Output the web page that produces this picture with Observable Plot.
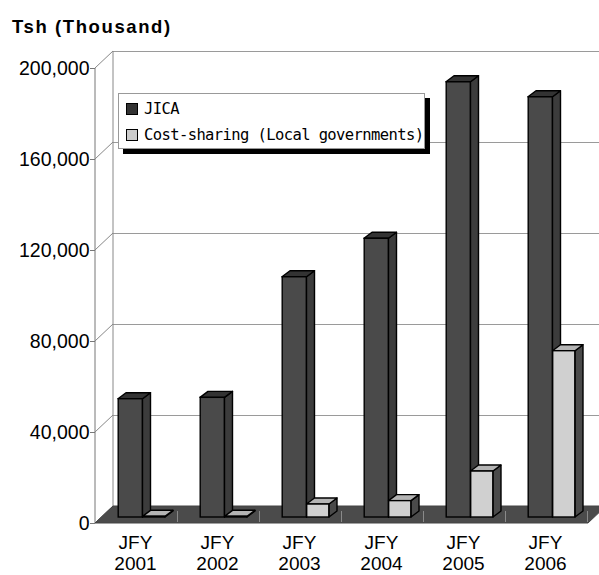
<!DOCTYPE html>
<html><head><meta charset="utf-8">
<script src="https://cdn.jsdelivr.net/npm/d3@7"></script>
<script src="https://cdn.jsdelivr.net/npm/@observablehq/plot@0.6"></script>
<style>
body{margin:0;background:#fff;}
#wrap{position:relative;width:599px;height:575px;font-family:"Liberation Sans",Arial,sans-serif;color:#000;}
#chart{position:absolute;left:0;top:0;}
#title{position:absolute;left:12px;top:16px;font-weight:bold;font-size:18.5px;letter-spacing:1.6px;white-space:nowrap;}
#legend{position:absolute;left:118px;top:93px;width:307px;height:56px;box-sizing:border-box;border:1px solid #999;background:#fff;box-shadow:5px 5px 0 #000;font-family:"DejaVu Sans Mono",monospace;font-size:15.5px;letter-spacing:-0.6px;}
.item{position:absolute;left:7px;white-space:nowrap;line-height:18px;}
.sw{display:inline-block;width:10px;height:10px;border:1px solid #000;vertical-align:-1px;margin-right:6px;}
</style></head><body>
<div id="wrap"><div id="chart"></div><div id="title">Tsh (Thousand)</div><div id="legend"></div></div>
<script>
// ---- data ----
const years = ["2001", "2002", "2003", "2004", "2005", "2006"];
const seriesNames = ["JICA", "Cost-sharing (Local governments)"];
const jica = [52000, 52600, 105600, 122500, 191300, 184700];
const costSharing = [300, 300, 5700, 7200, 20200, 73100];
const yTicks = [0, 40000, 80000, 120000, 160000, 200000];

// ---- styling / layout constants ----
const DX = 18, DY = -17;        // depth of chart box
const BAR_DY = -6;              // bars sit a bit behind the front edge
const BDX = 8, BDY = -6;        // bar depth
const colors = {
  jica: {front: "#4a4a4a", side: "#3c3c3c", top: "#333333"},
  cs: {front: "#d0d0d0", side: "#4a4a4a", top: "#b4b4b4"}
};
const STEP = 82.4;
const bars = [
  {name: seriesNames[0], vals: jica, off: -17, w: 24.5, c: colors.jica},
  {name: seriesNames[1], vals: costSharing, off: 7.5, w: 22.5, c: colors.cs}
];

function backAndAxes(index, {y}, values, dim) {
  const g = d3.create("svg:g").attr("fill", "none");
  const L = dim.marginLeft;
  const y0 = y(0), yTop = y(d3.max(yTicks));
  g.append("line").attr("x1", L + DX).attr("x2", L + DX).attr("y1", yTop + DY).attr("y2", y0 + DY).attr("stroke", "#888");
  g.append("line").attr("x1", L).attr("x2", L).attr("y1", yTop).attr("y2", y0).attr("stroke", "#777");
  for (const t of yTicks) {
    g.append("line").attr("x1", L).attr("y1", y(t)).attr("x2", L + DX).attr("y2", y(t) + DY).attr("stroke", "#888");
  }
  return g.node();
}

function floor(index, {x, y}, values, dim) {
  const g = d3.create("svg:g");
  const L = dim.marginLeft, R = dim.width - dim.marginRight;
  const y0 = y(0);
  g.append("polygon").attr("points", [[L, y0], [R, y0], [R + DX, y0 + DY], [L + DX, y0 + DY]].join(" "))
    .attr("fill", "#4b4b4b").attr("stroke", "#444");
  const bw = x.bandwidth();
  years.forEach(yr => {
    const b = x(yr) + bw + 1.5;
    g.append("line").attr("x1", b).attr("x2", b).attr("y1", y0 - 1).attr("y2", y0 - 12).attr("stroke", "#8a8a8a");
  });
  return g.node();
}

function faces(s) {
  return (index, {x, y}) => {
    const g = d3.create("svg:g").attr("stroke", "#000").attr("stroke-width", 1.4).attr("stroke-linejoin", "round");
    const bw = x.bandwidth();
    years.forEach((yr, i) => {
      const xl = x(yr) + bw / 2 + s.off, xr = xl + s.w;
      const yt = y(s.vals[i]) + BAR_DY, yb = y(0) + BAR_DY;
      g.append("polygon").attr("points", [[xr, yt], [xr + BDX, yt + BDY], [xr + BDX, yb + BDY], [xr, yb]].join(" ")).attr("fill", s.c.side);
      g.append("polygon").attr("points", [[xl, yt], [xr, yt], [xr + BDX, yt + BDY], [xl + BDX, yt + BDY]].join(" ")).attr("fill", s.c.top);
    });
    return g.node();
  };
}

const barMarks = [];
for (const s of bars) {
  const data = years.map((yr, i) => ({year: yr, value: s.vals[i]}));
  barMarks.push(faces(s));
  barMarks.push(Plot.barY(data, {
    x: "year", y: "value", fill: s.c.front, stroke: "#000", strokeWidth: 1.4,
    insetLeft: STEP / 2 + s.off, insetRight: STEP / 2 - s.off - s.w, dy: BAR_DY
  }));
}

const chart = Plot.plot({
  width: 599, height: 575,
  marginLeft: 95, marginRight: 11, marginTop: 68, marginBottom: 52,
  x: {type: "band", domain: years, range: [92.3, 92.3 + STEP * years.length], padding: 0, axis: null},
  y: {domain: [0, 200000]},
  style: {fontFamily: "'Liberation Sans', Arial, sans-serif", background: "transparent", color: "#000"},
  marks: [
    Plot.ruleY(yTicks, {dx: DX, dy: DY, stroke: "#9a9a9a", strokeWidth: 1}),
    backAndAxes,
    floor,
    ...barMarks,
    Plot.axisY({ticks: yTicks, tickFormat: d3.format(","), tickSize: 5, tickPadding: 1, fontSize: 19.5, stroke: "#777", label: null}),
    Plot.text(years, {x: d => d, text: d => `JFY\n${d}`, frameAnchor: "bottom", lineAnchor: "top", dy: 10, lineHeight: 1.13, fontSize: 19, fill: "#000"})
  ]
});
document.getElementById("chart").appendChild(chart);

// legend
const legend = d3.select("#legend");
bars.forEach((s, i) => {
  const it = legend.append("div").attr("class", "item").style("top", (6 + i * 25.5) + "px");
  it.append("span").attr("class", "sw").style("background", i === 0 ? "#333" : "#ccc");
  it.append("span").text(s.name);
});
</script>
</body></html>
